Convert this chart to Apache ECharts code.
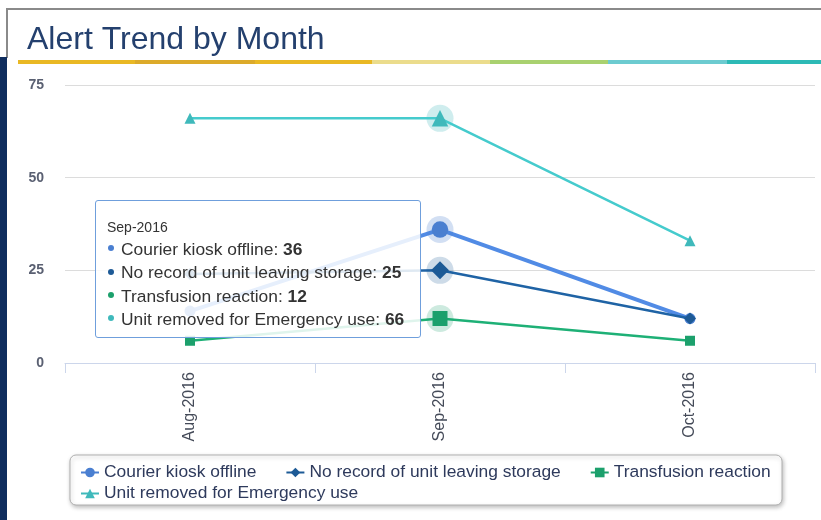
<!DOCTYPE html>
<html>
<head>
<meta charset="utf-8">
<style>
  html, body { margin: 0; padding: 0; background: #ffffff; }
  #chart { width: 821px; height: 520px; position: relative; }
</style>
<script src="https://cdn.jsdelivr.net/npm/echarts@6/dist/echarts.min.js"></script>
</head>
<body>
<div id="chart"></div>
<script>
// ---- data ----
const categories = ['Aug-2016', 'Sep-2016', 'Oct-2016'];
const courierKiosk = [14, 36, 12];
const noRecord = [24, 25, 12];
const transfusion = [6, 12, 6];
const unitRemoved = [66, 66, 33];
const seriesNames = ['Courier kiosk offline', 'No record of unit leaving storage', 'Transfusion reaction', 'Unit removed for Emergency use'];
const yTicks = [0, 25, 50, 75];
const chartTitle = 'Alert Trend by Month';
const tooltipIndex = 1;

// ---- styling ----
const FONT = '"Liberation Sans", Arial, sans-serif';
const colors = ['#4a7fd1', '#1d5a96', '#1ca06c', '#3fb9bb'];
const halos = ['rgba(74,127,209,0.25)', 'rgba(29,90,150,0.22)', 'rgba(28,160,108,0.22)', 'rgba(63,185,187,0.25)'];
const symbols = ['circle', 'diamond', 'rect', 'triangle'];
const widths = [4, 2.5, 2.5, 2.5];
const sizes = [11, 12, 10, 11];
const values = [courierKiosk, noRecord, transfusion, unitRemoved];

const stripe = [
  [18, 135, '#e9b824'], [135, 255, '#dcaa2a'], [255, 372, '#e9b824'],
  [372, 490, '#ebdc8c'], [490, 608, '#a9d16f'], [608, 727, '#6ccbd0'], [727, 821, '#2dbab6']
];

const graphics = [
  { type: 'rect', shape: { x: 7, y: 8, width: 814, height: 2 }, style: { fill: '#8a8a8a' }, z: 0 },
  { type: 'rect', shape: { x: 6, y: 8, width: 2, height: 50 }, style: { fill: '#8a8a8a' }, z: 0 },
  { type: 'rect', shape: { x: 0, y: 57, width: 7, height: 463 }, style: { fill: '#0f2d5e' }, z: 0 },
  { type: 'rect', shape: { x: 70, y: 455, width: 712, height: 50, r: 6 },
    style: { fill: '#ffffff', stroke: '#b0b0b0', lineWidth: 1, shadowBlur: 4, shadowOffsetX: 1, shadowOffsetY: 2, shadowColor: 'rgba(0,0,0,0.25)' }, z: 0 }
].concat(stripe.map(s => ({ type: 'rect', shape: { x: s[0], y: 60, width: s[1] - s[0], height: 4 }, style: { fill: s[2] }, z: 0 })));

const series = seriesNames.map((name, i) => ({
  name: name,
  type: 'line',
  data: values[i],
  symbol: symbols[i],
  symbolSize: sizes[i],
  showAllSymbol: true,
  lineStyle: { width: widths[i], color: colors[i] },
  itemStyle: { color: colors[i] },
  emphasis: {
    scale: 1.5,
    focus: 'none',
    lineStyle: { width: widths[i] },
    itemStyle: { color: colors[i] }
  },
  markPoint: {
    silent: true,
    symbol: 'circle',
    symbolSize: 27,
    label: { show: false },
    itemStyle: { color: halos[i] },
    emphasis: { disabled: true },
    data: [{ coord: [categories[tooltipIndex], values[i][tooltipIndex]] }]
  },
  z: 2 + i
}));

const chart = echarts.init(document.getElementById('chart'), null, { renderer: 'canvas' });
chart.setOption({
  animation: false,
  backgroundColor: '#ffffff',
  color: colors,
  graphic: graphics,
  title: {
    text: chartTitle,
    left: 22, top: 17,
    textStyle: { fontFamily: FONT, fontSize: 32, fontWeight: 'normal', color: '#24406e', lineHeight: 36 }
  },
  grid: { left: 65, right: 6, top: 85, bottom: 157, containLabel: false },
  xAxis: {
    type: 'category',
    data: categories,
    boundaryGap: true,
    axisLine: { lineStyle: { color: '#ccd6eb', width: 1 } },
    axisTick: { show: true, length: 10, lineStyle: { color: '#ccd6eb' } },
    axisLabel: { rotate: 90, margin: 9, fontFamily: FONT, fontSize: 16, color: '#444a58' },
    splitLine: { show: false }
  },
  yAxis: {
    type: 'value',
    min: yTicks[0], max: yTicks[yTicks.length - 1], interval: yTicks[1] - yTicks[0],
    axisLine: { show: false },
    axisTick: { show: false },
    axisLabel: { margin: 21, fontFamily: FONT, fontSize: 14, fontWeight: 'bold', color: '#5a6072' },
    splitLine: { lineStyle: { color: '#dcdcdc', width: 1 } }
  },
  legend: [
    {
      data: seriesNames.slice(0, 3),
      left: 80, top: 464, padding: 0,
      itemWidth: 18, itemHeight: 12, itemGap: 29,
      textStyle: { fontFamily: FONT, fontSize: 17.4, color: '#2e3a5c' },
      z: 10
    },
    {
      data: seriesNames.slice(3),
      left: 80, top: 485, padding: 0,
      itemWidth: 18, itemHeight: 12, itemGap: 29,
      textStyle: { fontFamily: FONT, fontSize: 17.4, color: '#2e3a5c' },
      z: 10
    }
  ],
  tooltip: {
    trigger: 'axis',
    triggerOn: 'none',
    alwaysShowContent: true,
    transitionDuration: 0,
    axisPointer: { type: 'none' },
    position: [95, 200],
    backgroundColor: 'rgba(255,255,255,0.86)',
    borderColor: '#6f9fdc',
    borderWidth: 1,
    borderRadius: 3,
    padding: [16, 12, 8, 11],
    extraCssText: 'box-shadow:none; width:301px; height:112px; box-sizing:content-box;',
    formatter: function (params) {
      const ff = FONT.replace(/"/g, "'");
      let html = '<div style="font-family:' + ff + ';font-size:14px;color:#333;line-height:20px;margin-bottom:1px;">' + params[0].axisValue + '</div>';
      params.filter(p => seriesNames.indexOf(p.seriesName) >= 0).forEach(p => {
        html += '<div style="font-family:' + ff + ';font-size:17.4px;color:#333;line-height:23.3px;white-space:nowrap;">' +
          '<span style="display:inline-block;width:6px;height:6px;border-radius:3px;background:' + p.color + ';margin-right:7px;margin-left:1px;vertical-align:middle;position:relative;top:-2px;"></span>' +
          p.seriesName + ': <b>' + p.value + '</b></div>';
      });
      return html;
    }
  },
  series: series
});

chart.dispatchAction({ type: 'highlight', seriesIndex: [0, 1, 2, 3], dataIndex: tooltipIndex });
chart.dispatchAction({ type: 'showTip', seriesIndex: 0, dataIndex: tooltipIndex });
</script>
</body>
</html>
